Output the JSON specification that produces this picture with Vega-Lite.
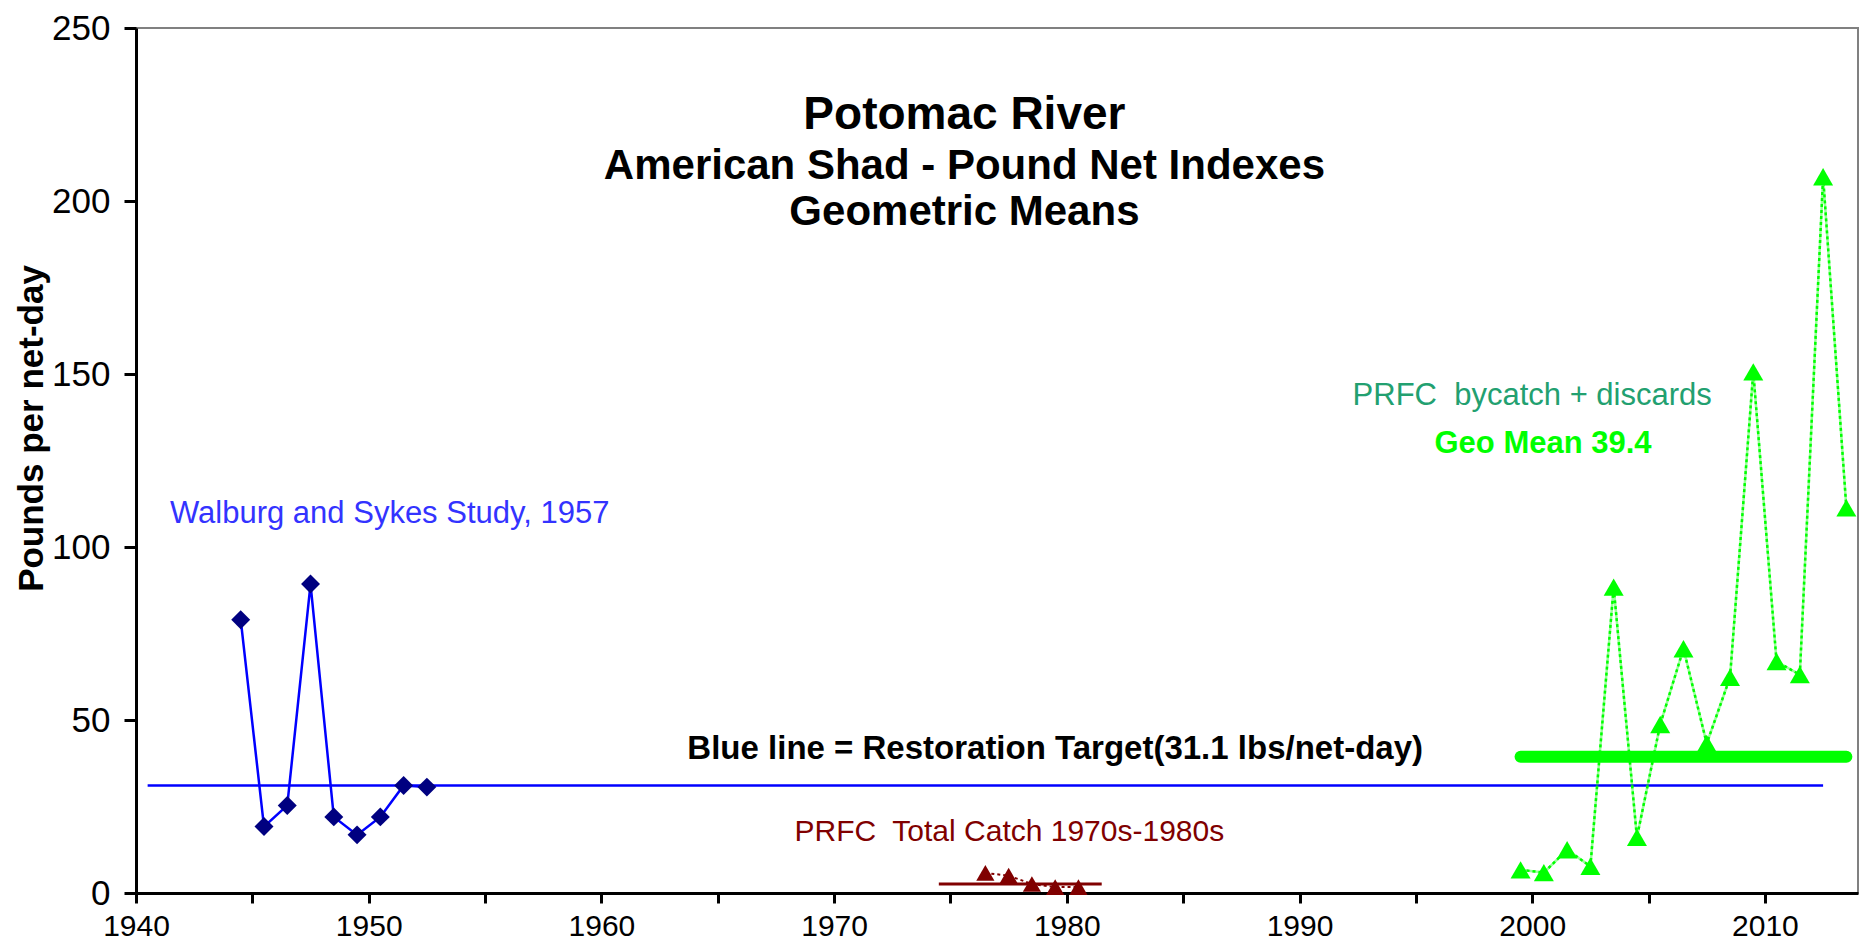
{
  "$schema": "https://vega.github.io/schema/vega-lite/v6.json",
  "width": 1722,
  "height": 865,
  "autosize": {"type": "none"},
  "padding": {"left": 136, "top": 28, "right": 6, "bottom": 59},
  "background": "white",
  "config": {
    "font": "Liberation Sans",
    "view": {"stroke": "#808080", "strokeWidth": 2},
    "axis": {"grid": false}
  },
  "datasets": {
    "walburg": [
      {"year": 1944.5, "value": 79.0},
      {"year": 1945.5, "value": 19.2},
      {"year": 1946.5, "value": 25.3},
      {"year": 1947.5, "value": 89.3},
      {"year": 1948.5, "value": 22.0},
      {"year": 1949.5, "value": 16.8},
      {"year": 1950.5, "value": 22.0},
      {"year": 1951.5, "value": 31.1},
      {"year": 1952.5, "value": 30.6}
    ],
    "target": [
      {"year": 1940.5, "value": 31.1},
      {"year": 2012.5, "value": 31.1}
    ],
    "prfc70": [
      {"year": 1976.5, "value": 5.8},
      {"year": 1977.5, "value": 5.0},
      {"year": 1978.5, "value": 2.6},
      {"year": 1979.5, "value": 1.7},
      {"year": 1980.5, "value": 1.7}
    ],
    "prfc70mean": [
      {"year": 1974.5, "value": 2.6},
      {"year": 1981.5, "value": 2.6}
    ],
    "bycatch": [
      {"year": 1999.5, "value": 6.7},
      {"year": 2000.5, "value": 5.9},
      {"year": 2001.5, "value": 12.5},
      {"year": 2002.5, "value": 7.7},
      {"year": 2003.5, "value": 88.4},
      {"year": 2004.5, "value": 16.1},
      {"year": 2005.5, "value": 48.7},
      {"year": 2006.5, "value": 70.6},
      {"year": 2007.5, "value": 43.2},
      {"year": 2008.5, "value": 62.3},
      {"year": 2009.5, "value": 150.6},
      {"year": 2010.5, "value": 66.9},
      {"year": 2011.5, "value": 63.1},
      {"year": 2012.5, "value": 207.0},
      {"year": 2013.5, "value": 111.3}
    ],
    "bycatchmean": [
      {"year": 1999.5, "value": 39.4},
      {"year": 2013.5, "value": 39.4}
    ],
    "title1": [{"year": 1975.6, "value": 220.8, "label": "Potomac River"}],
    "title2": [
      {"year": 1975.6, "value": 206.5, "label": "American Shad - Pound Net Indexes"},
      {"year": 1975.6, "value": 193.2, "label": "Geometric Means"}
    ],
    "noteWalburg": [{"year": 1941.46, "value": 106.9, "label": "Walburg and Sykes Study, 1957"}],
    "noteTarget": [{"year": 1979.5, "value": 38.6, "label": "Blue line = Restoration Target(31.1 lbs/net-day)"}],
    "notePrfc70": [{"year": 1968.3, "value": 14.9, "label": "PRFC\u00a0 Total Catch 1970s-1980s"}],
    "noteBycatch": [{"year": 1992.28, "value": 141.1, "label": "PRFC\u00a0 bycatch + discards"}],
    "noteGeo": [{"year": 1995.8, "value": 127.2, "label": "Geo Mean 39.4"}]
  },
  "encoding": {
    "x": {
      "field": "year",
      "type": "quantitative",
      "scale": {"domain": [1940, 2014], "nice": false, "zero": false},
      "axis": {
        "title": null,
        "values": [1940, 1945, 1950, 1955, 1960, 1965, 1970, 1975, 1980, 1985, 1990, 1995, 2000, 2005, 2010],
        "format": "d",
        "labelExpr": "datum.value % 10 === 0 ? datum.label : ''",
        "domainColor": "black",
        "domainWidth": 3,
        "tickColor": "black",
        "tickWidth": 3,
        "tickSize": 10,
        "labelFontSize": 30,
        "labelColor": "black",
        "labelPadding": 8,
        "labelFlush": false,
        "labelOverlap": false
      }
    },
    "y": {
      "field": "value",
      "type": "quantitative",
      "scale": {"domain": [0, 250], "nice": false},
      "axis": {
        "title": "Pounds per net-day",
        "values": [0, 50, 100, 150, 200, 250],
        "domainColor": "black",
        "domainWidth": 3,
        "tickColor": "black",
        "tickWidth": 3,
        "tickSize": 12,
        "labelFontSize": 35,
        "labelColor": "black",
        "labelPadding": 14,
        "labelFlush": false,
        "labelOverlap": false,
        "titleFont": "Liberation Sans",
        "titleFontSize": 35,
        "titleFontWeight": "bold",
        "titleColor": "black",
        "titlePadding": 2,
        "titleY": 400
      }
    }
  },
  "layer": [
    {"data": {"name": "walburg"}, "mark": {"type": "line", "color": "#0000ff", "strokeWidth": 2.5}},
    {"data": {"name": "target"}, "mark": {"type": "line", "color": "#0000ff", "strokeWidth": 2.5}},
    {"data": {"name": "walburg"}, "mark": {"type": "point", "shape": "diamond", "filled": true, "opacity": 1, "color": "#000080", "size": 360}},
    {"data": {"name": "prfc70"}, "mark": {"type": "line", "color": "#800000", "strokeWidth": 2, "strokeDash": [3, 3]}},
    {"data": {"name": "prfc70mean"}, "mark": {"type": "line", "color": "#800000", "strokeWidth": 3}},
    {"data": {"name": "prfc70"}, "mark": {"type": "point", "shape": "triangle-up", "filled": true, "opacity": 1, "color": "#800000", "size": 330}},
    {"data": {"name": "bycatch"}, "mark": {"type": "line", "color": "#00ff00", "strokeWidth": 2.5, "opacity": 0.4}},
    {"data": {"name": "bycatch"}, "mark": {"type": "line", "color": "#00ff00", "strokeWidth": 2.5, "strokeDash": [3, 3]}},
    {"data": {"name": "bycatchmean"}, "mark": {"type": "line", "color": "#00ff00", "strokeWidth": 12, "strokeCap": "round"}},
    {"data": {"name": "bycatch"}, "mark": {"type": "point", "shape": "triangle-up", "filled": true, "opacity": 1, "color": "#00ff00", "size": 400}},
    {"data": {"name": "title1"}, "mark": {"type": "text", "align": "center", "baseline": "alphabetic", "fontSize": 46, "fontWeight": "bold", "color": "black"}, "encoding": {"text": {"field": "label"}}},
    {"data": {"name": "title2"}, "mark": {"type": "text", "align": "center", "baseline": "alphabetic", "fontSize": 42, "fontWeight": "bold", "color": "black"}, "encoding": {"text": {"field": "label"}}},
    {"data": {"name": "noteWalburg"}, "mark": {"type": "text", "align": "left", "baseline": "alphabetic", "fontSize": 31, "color": "#3333ff"}, "encoding": {"text": {"field": "label"}}},
    {"data": {"name": "noteTarget"}, "mark": {"type": "text", "align": "center", "baseline": "alphabetic", "fontSize": 33, "fontWeight": "bold", "color": "black"}, "encoding": {"text": {"field": "label"}}},
    {"data": {"name": "notePrfc70"}, "mark": {"type": "text", "align": "left", "baseline": "alphabetic", "fontSize": 30, "color": "#800000"}, "encoding": {"text": {"field": "label"}}},
    {"data": {"name": "noteBycatch"}, "mark": {"type": "text", "align": "left", "baseline": "alphabetic", "fontSize": 31, "color": "#22a070"}, "encoding": {"text": {"field": "label"}}},
    {"data": {"name": "noteGeo"}, "mark": {"type": "text", "align": "left", "baseline": "alphabetic", "fontSize": 31, "fontWeight": "bold", "color": "#00ff00"}, "encoding": {"text": {"field": "label"}}}
  ]
}
